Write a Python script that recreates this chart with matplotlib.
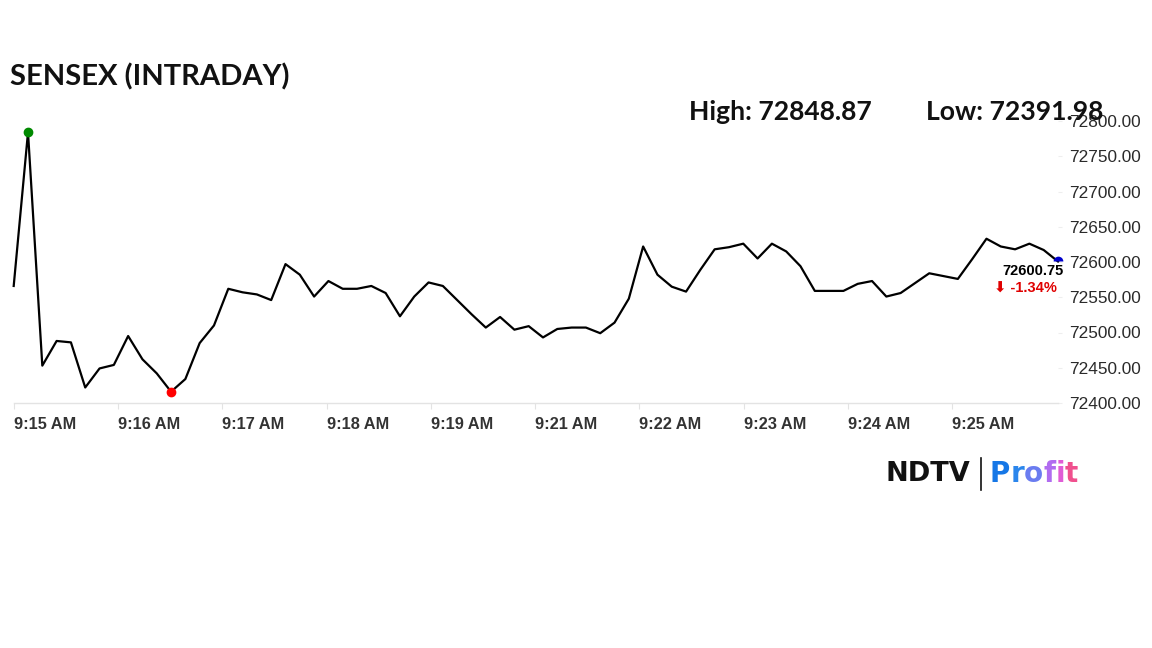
import matplotlib.pyplot as plt
import numpy as np

# SENSEX intraday points
values = [
    72566, 72784, 72453, 72488, 72486, 72422, 72449, 72454, 72495, 72462,
    72442, 72416, 72434, 72485, 72510, 72562, 72557, 72554, 72546, 72597,
    72582, 72551, 72573, 72562, 72562, 72566, 72556, 72523, 72551, 72571,
    72566, 72546, 72526, 72507, 72522, 72504, 72509, 72493, 72505, 72507,
    72507, 72499, 72514, 72548, 72622, 72582, 72565, 72558, 72589, 72618,
    72621, 72626, 72605, 72626, 72615, 72594, 72559, 72559, 72559, 72569,
    72573, 72551, 72556, 72570, 72584, 72580, 72576, 72604, 72633, 72622,
    72618, 72626, 72617, 72600.75,
]
time_labels = ["9:15 AM", "9:16 AM", "9:17 AM", "9:18 AM", "9:19 AM",
               "9:21 AM", "9:22 AM", "9:23 AM", "9:24 AM", "9:25 AM"]
y_ticks = [72400, 72450, 72500, 72550, 72600, 72650, 72700, 72750, 72800]
high_text = "72848.87"
low_text = "72391.98"
change_pct = "-1.34%"

x = np.arange(len(values))
i_max = int(np.argmax(values))
i_min = int(np.argmin(values))

fig = plt.figure(figsize=(11.52, 6.48), dpi=100)
ax = fig.add_axes([13.7 / 1152, 1 - 403 / 648, (1058 - 13.7) / 1152, 282 / 648])

ax.plot(x, values, color="black", lw=1.6, zorder=3, clip_on=False)
ax.plot(x[i_max], values[i_max], "o", color="#008a00", ms=6, zorder=4)
ax.plot(x[i_min], values[i_min], "o", color="#ff0000", ms=6, zorder=4)
ax.plot(x[-1], values[-1], "o", color="#0000cc", ms=7, fillstyle="top",
        markeredgewidth=0, zorder=4, clip_on=False)

ax.set_xlim(0, len(values) - 1)
ax.set_ylim(72400, 72800)

ax.set_xticks(np.arange(len(time_labels)) * 7.29)
ax.set_xticklabels(time_labels)
ax.set_yticks(y_ticks)
ax.set_yticklabels([f"{v:.2f}" for v in y_ticks])
ax.yaxis.tick_right()

for s in ["top", "left", "right"]:
    ax.spines[s].set_visible(False)
ax.spines["bottom"].set_color("#e3e3e3")
ax.spines["bottom"].set_linewidth(1)

ax.tick_params(axis="x", colors="#e3e3e3", length=4, pad=6, labelcolor="#333333")
ax.tick_params(axis="y", colors="#eeeeee", length=3, pad=5, labelcolor="#2a2a2a")
for lbl in ax.get_xticklabels():
    lbl.set_fontfamily("Liberation Sans")
    lbl.set_fontweight("bold")
    lbl.set_fontsize(11.8)
    lbl.set_horizontalalignment("left")
for lbl in ax.get_yticklabels():
    lbl.set_fontfamily("Liberation Sans")
    lbl.set_fontsize(12.4)

# titles
fig.text(10 / 1152, 1 - 77 / 648, "SENSEX (INTRADAY)", fontfamily="Lato",
         fontweight="bold", fontsize=21, va="center", ha="left", color="#111111")
fig.text(689 / 1152, 1 - 112 / 648, f"High: {high_text}", fontfamily="Lato",
         fontweight="bold", fontsize=19.1, va="center", ha="left", color="#111111")
fig.text(926 / 1152, 1 - 112 / 648, f"Low: {low_text}", fontfamily="Lato",
         fontweight="bold", fontsize=19.1, va="center", ha="left", color="#111111")

# last value annotation
fig.text(1064 / 1152, 1 - 271 / 648, f"{values[-1]:.2f}", fontfamily="Liberation Sans",
         fontweight="bold", fontsize=10.5, ha="right", va="center", color="black")
fig.text(1057 / 1152, 1 - 289 / 648, f"\u2b07 {change_pct}",
         fontfamily=["Liberation Sans", "DejaVu Sans"], fontweight="bold",
         fontsize=10.5, ha="right", va="center", color="#e00000")

# logo
fig.text(885 / 1152, 1 - 474 / 648, "NDTV", fontfamily="DejaVu Sans",
         fontweight="bold", fontsize=19.5, ha="left", va="center", color="#111111")
fig.add_artist(plt.Line2D([981 / 1152, 981 / 1152], [1 - 458 / 648, 1 - 490 / 648],
                          color="#111111", lw=1.2))
profit_colors = ["#1677e6", "#2b86ec", "#6a7cf0", "#b06cf0", "#e05cd6", "#f0508e"]
prev = ax.annotate("P", xy=(990 / 1152, 1 - 474 / 648), xycoords="figure fraction",
                   fontfamily="DejaVu Sans", fontweight="bold", fontsize=20,
                   ha="left", va="center", color=profit_colors[0],
                   annotation_clip=False)
for ch, col in zip("rofit", profit_colors[1:]):
    prev = ax.annotate(ch, xy=(1, 0), xycoords=prev, fontfamily="DejaVu Sans",
                       fontweight="bold", fontsize=20, ha="left", va="bottom",
                       color=col, annotation_clip=False)

fig.savefig("out.png", dpi=100, facecolor="white")
